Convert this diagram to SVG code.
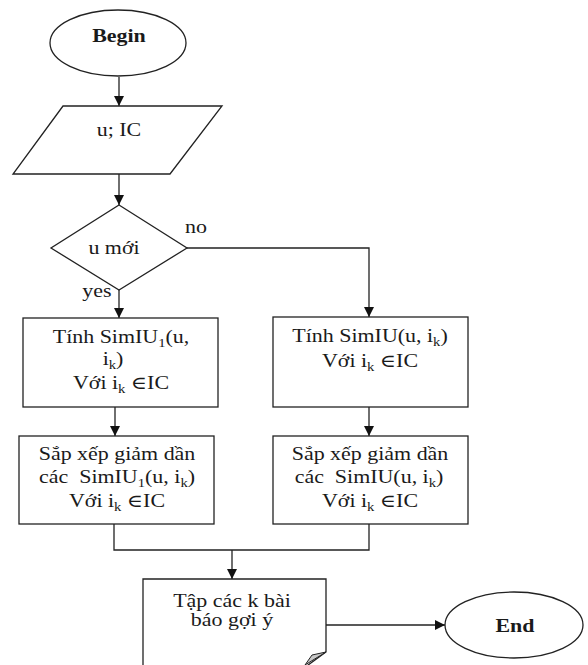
<svg xmlns="http://www.w3.org/2000/svg" width="588" height="665" viewBox="0 0 588 665">
<defs>
<marker id="arr" viewBox="0 0 10 10" refX="10" refY="5" markerWidth="10" markerHeight="10" markerUnits="userSpaceOnUse" orient="auto">
<path d="M0,0 L10,5 L0,10 Z" fill="#111"/>
</marker>
<style>
.s{fill:#fff;stroke:#222;stroke-width:1.3}
.c{fill:none;stroke:#222;stroke-width:1.3}
.t{font-family:"Liberation Serif","DejaVu Serif",serif;font-size:18px;fill:#1a1a1a;text-anchor:middle}
.b{font-weight:bold}
.sub{font-size:12px}
</style>
</defs>
<rect width="588" height="665" fill="#fff"/>
<g id="connectors">
<line class="c" x1="119" y1="77" x2="119" y2="106" marker-end="url(#arr)"/>
<line class="c" x1="119" y1="174" x2="119" y2="205" marker-end="url(#arr)"/>
<line class="c" x1="119" y1="290" x2="119" y2="318" marker-end="url(#arr)"/>
<polyline class="c" points="187,248 369,248 369,317" marker-end="url(#arr)"/>
<line class="c" x1="115" y1="407" x2="115" y2="436" marker-end="url(#arr)"/>
<line class="c" x1="369" y1="407" x2="369" y2="436" marker-end="url(#arr)"/>
<polyline class="c" points="114,524 114,550 369,550 369,524"/>
<line class="c" x1="232" y1="550" x2="232" y2="579" marker-end="url(#arr)"/>
<line class="c" x1="326" y1="625" x2="445" y2="625" marker-end="url(#arr)"/>
<text class="t" transform="translate(196,233) scale(1.22,1)">no</text>
<text class="t" transform="translate(97,297) scale(1.22,1)">yes</text>
</g>
<g id="begin">
<ellipse class="s" cx="118" cy="43" rx="68" ry="33"/>
<text class="t b" transform="translate(119,42) scale(1.22,1)">Begin</text>
</g>
<g id="input">
<polygon class="s" points="63,106 222,106 170,174 13,174"/>
<text class="t" transform="translate(119,136) scale(1.22,1)">u; IC</text>
</g>
<g id="decision">
<polygon class="s" points="119,205 187,248 119,290 51,248"/>
<text class="t" transform="translate(114,254) scale(1.22,1)">u mới</text>
</g>
<g id="simiu1">
<rect class="s" x="23" y="318" width="195" height="89"/>
<text class="t" transform="translate(121,343) scale(1.22,1)">Tính SimIU<tspan class="sub" dy="4">1</tspan><tspan dy="-4">(u,</tspan></text>
<text class="t" transform="translate(113,365) scale(1.22,1)">i<tspan class="sub" dy="4">k</tspan><tspan dy="-4">)</tspan></text>
<text class="t" transform="translate(121,389) scale(1.22,1)">Với i<tspan class="sub" dy="4">k</tspan><tspan dy="-4"> ∈IC</tspan></text>
</g>
<g id="simiu">
<rect class="s" x="273" y="317" width="195" height="90"/>
<text class="t" transform="translate(370,342) scale(1.22,1)">Tính SimIU(u, i<tspan class="sub" dy="4">k</tspan><tspan dy="-4">)</tspan></text>
<text class="t" transform="translate(370,367) scale(1.22,1)">Với i<tspan class="sub" dy="4">k</tspan><tspan dy="-4"> ∈IC</tspan></text>
</g>
<g id="sort1">
<rect class="s" x="19" y="436" width="195" height="88"/>
<text class="t" transform="translate(117,460) scale(1.22,1)">Sắp xếp giảm dần</text>
<text class="t" transform="translate(117,483) scale(1.22,1)">các&#160; SimIU<tspan class="sub" dy="4">1</tspan><tspan dy="-4">(u, i</tspan><tspan class="sub" dy="4">k</tspan><tspan dy="-4">)</tspan></text>
<text class="t" transform="translate(117,507) scale(1.22,1)">Với i<tspan class="sub" dy="4">k</tspan><tspan dy="-4"> ∈IC</tspan></text>
</g>
<g id="sort">
<rect class="s" x="273" y="436" width="195" height="88"/>
<text class="t" transform="translate(370,460) scale(1.22,1)">Sắp xếp giảm dần</text>
<text class="t" transform="translate(369,483) scale(1.22,1)">các&#160; SimIU(u, i<tspan class="sub" dy="4">k</tspan><tspan dy="-4">)</tspan></text>
<text class="t" transform="translate(370,507) scale(1.22,1)">Với i<tspan class="sub" dy="4">k</tspan><tspan dy="-4"> ∈IC</tspan></text>
</g>
<g id="result">
<path class="s" d="M143,579 H326 V652 L304,668 H143 Z"/>
<polygon points="326,652 312,655 305,665" fill="#c8c8c8" stroke="#222" stroke-width="1"/>
<text class="t" transform="translate(232,607) scale(1.22,1)">Tập các k bài</text>
<text class="t" transform="translate(232,626) scale(1.22,1)">báo gợi ý</text>
</g>
<g id="end">
<ellipse class="s" cx="514" cy="625" rx="69" ry="33"/>
<text class="t b" transform="translate(515,632) scale(1.22,1)">End</text>
</g>
</svg>
